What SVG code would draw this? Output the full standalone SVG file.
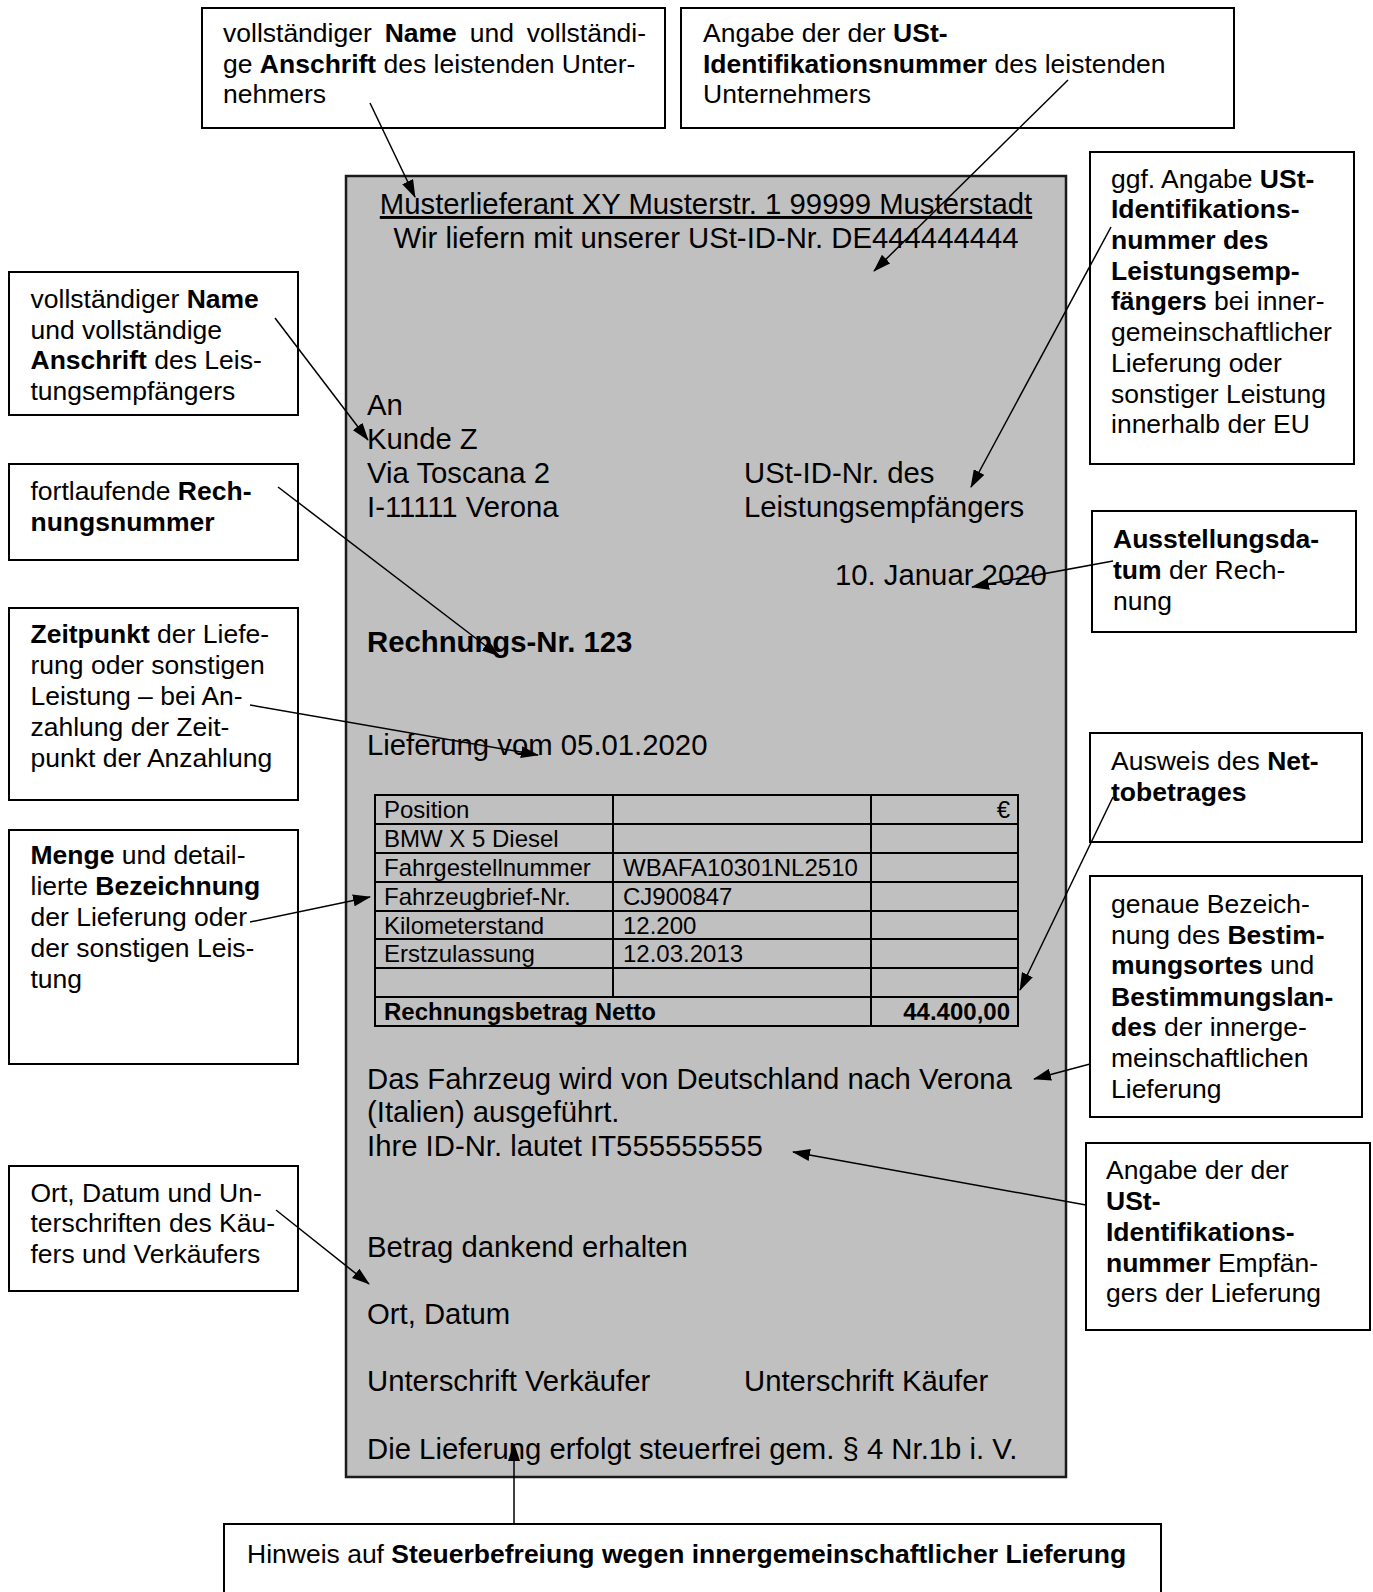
<svg xmlns="http://www.w3.org/2000/svg" width="1373" height="1592" viewBox="0 0 1373 1592">
<defs>
<marker id="ah" markerUnits="userSpaceOnUse" markerWidth="18" markerHeight="12" refX="17" refY="6" orient="auto">
<path d="M0,0 L18,6 L0,12 z" fill="#000"/>
</marker>
<style>
text{font-family:"Liberation Sans",Arial,sans-serif;fill:#000}
.a{font-size:26.5px}
.m{font-size:29.3px}
.tb{font-size:24px}
.b{font-weight:bold}
.box{fill:#fff;stroke:#000;stroke-width:2}
.doc{fill:#c0c0c0;stroke:#1a1a1a;stroke-width:2.5}
.grid{fill:none;stroke:#000;stroke-width:2}
.conn line{stroke:#000;stroke-width:1.5;marker-end:url(#ah)}
</style>
</defs>
<rect width="1373" height="1592" fill="#fff"/>

<g id="invoice">
<rect class="doc" x="346" y="176" width="720" height="1301"/>
<text class="m" x="706" y="214" text-anchor="middle" text-decoration="underline">Musterlieferant XY Musterstr. 1 99999 Musterstadt</text>
<text class="m" x="706" y="248" text-anchor="middle">Wir liefern mit unserer USt-ID-Nr. DE444444444</text>
<text class="m" x="367" y="415">An</text>
<text class="m" x="367" y="449">Kunde Z</text>
<text class="m" x="367" y="483">Via Toscana 2</text>
<text class="m" x="367" y="517">I-11111 Verona</text>
<text class="m" x="744" y="483">USt-ID-Nr. des</text>
<text class="m" x="744" y="517">Leistungsempfängers</text>
<text class="m" x="835" y="585">10. Januar 2020</text>
<text class="m b" x="367" y="652">Rechnungs-Nr. 123</text>
<text class="m" x="367" y="755">Lieferung vom 05.01.2020</text>
<text class="m" x="367" y="1089">Das Fahrzeug wird von Deutschland nach Verona</text>
<text class="m" x="367" y="1122">(Italien) ausgeführt.</text>
<text class="m" x="367" y="1156">Ihre ID-Nr. lautet IT555555555</text>
<text class="m" x="367" y="1257">Betrag dankend erhalten</text>
<text class="m" x="367" y="1324">Ort, Datum</text>
<text class="m" x="367" y="1391">Unterschrift Verkäufer</text>
<text class="m" x="744" y="1391">Unterschrift Käufer</text>
<text class="m" x="367" y="1459">Die Lieferung erfolgt steuerfrei gem. § 4 Nr.1b i. V.</text>
</g>

<g id="table">
<rect class="grid" x="375" y="795" width="643" height="231"/>
<path class="grid" d="M375,824 H1018 M375,853 H1018 M375,882 H1018 M375,911 H1018 M375,939 H1018 M375,968 H1018 M375,997 H1018 M613,795 V997 M871,795 V1026"/>
<text class="tb" x="384" y="818">Position</text>
<text class="tb" x="1010" y="818" text-anchor="end">€</text>
<text class="tb" x="384" y="847">BMW X 5 Diesel</text>
<text class="tb" x="384" y="876">Fahrgestellnummer</text>
<text class="tb" x="623" y="876">WBAFA10301NL2510</text>
<text class="tb" x="384" y="905">Fahrzeugbrief-Nr.</text>
<text class="tb" x="623" y="905">CJ900847</text>
<text class="tb" x="384" y="934">Kilometerstand</text>
<text class="tb" x="623" y="934">12.200</text>
<text class="tb" x="384" y="962">Erstzulassung</text>
<text class="tb" x="623" y="962">12.03.2013</text>
<text class="tb b" x="384" y="1020">Rechnungsbetrag Netto</text>
<text class="tb b" x="1010" y="1020" text-anchor="end">44.400,00</text>
</g>

<g id="n-leistender-name">
<rect class="box" x="202" y="8" width="463" height="120"/>
<text class="a" x="223" y="42" word-spacing="5.5">vollständiger <tspan class="b">Name</tspan> und vollständi-</text>
<text class="a" x="223" y="72.5">ge <tspan class="b">Anschrift</tspan> des leistenden Unter-</text>
<text class="a" x="223" y="103">nehmers</text>
</g>

<g id="n-ust-leistender">
<rect class="box" x="681" y="8" width="553" height="120"/>
<text class="a" x="703" y="42">Angabe der der <tspan class="b">USt-</tspan></text>
<text class="a" x="703" y="72.5"><tspan class="b">Identifikationsnummer</tspan> des leistenden</text>
<text class="a" x="703" y="103">Unternehmers</text>
</g>

<g id="n-ust-empfaenger">
<rect class="box" x="1090" y="152" width="264" height="312"/>
<text class="a" x="1111" y="187.5">ggf. Angabe <tspan class="b">USt-</tspan></text>
<text class="a b" x="1111" y="218">Identifikations-</text>
<text class="a b" x="1111" y="249">nummer des</text>
<text class="a b" x="1111" y="280">Leistungsemp-</text>
<text class="a" x="1111" y="310"><tspan class="b">fängers</tspan> bei inner-</text>
<text class="a" x="1111" y="341">gemeinschaftlicher</text>
<text class="a" x="1111" y="372">Lieferung oder</text>
<text class="a" x="1111" y="403">sonstiger Leistung</text>
<text class="a" x="1111" y="433">innerhalb der EU</text>
</g>

<g id="n-empfaenger-name">
<rect class="box" x="9" y="272" width="289" height="143"/>
<text class="a" x="30.5" y="307.5">vollständiger <tspan class="b">Name</tspan></text>
<text class="a" x="30.5" y="338.5">und vollständige</text>
<text class="a" x="30.5" y="369"><tspan class="b">Anschrift</tspan> des Leis-</text>
<text class="a" x="30.5" y="400">tungsempfängers</text>
</g>

<g id="n-rechnungsnummer">
<rect class="box" x="9" y="464" width="289" height="96"/>
<text class="a" x="30.5" y="500">fortlaufende <tspan class="b">Rech-</tspan></text>
<text class="a b" x="30.5" y="531">nungsnummer</text>
</g>

<g id="n-zeitpunkt">
<rect class="box" x="9" y="608" width="289" height="192"/>
<text class="a" x="30.5" y="643"><tspan class="b">Zeitpunkt</tspan> der Liefe-</text>
<text class="a" x="30.5" y="674">rung oder sonstigen</text>
<text class="a" x="30.5" y="705">Leistung – bei An-</text>
<text class="a" x="30.5" y="736">zahlung der Zeit-</text>
<text class="a" x="30.5" y="767">punkt der Anzahlung</text>
</g>

<g id="n-menge">
<rect class="box" x="9" y="830" width="289" height="234"/>
<text class="a" x="30.5" y="864"><tspan class="b">Menge</tspan> und detail-</text>
<text class="a" x="30.5" y="895">lierte <tspan class="b">Bezeichnung</tspan></text>
<text class="a" x="30.5" y="926">der Lieferung oder</text>
<text class="a" x="30.5" y="957">der sonstigen Leis-</text>
<text class="a" x="30.5" y="988">tung</text>
</g>

<g id="n-unterschriften">
<rect class="box" x="9" y="1166" width="289" height="125"/>
<text class="a" x="30.5" y="1202">Ort, Datum und Un-</text>
<text class="a" x="30.5" y="1232">terschriften des Käu-</text>
<text class="a" x="30.5" y="1263">fers und Verkäufers</text>
</g>

<g id="n-ausstellungsdatum">
<rect class="box" x="1092" y="511" width="264" height="121"/>
<text class="a b" x="1113" y="548">Ausstellungsda-</text>
<text class="a" x="1113" y="579"><tspan class="b">tum</tspan> der Rech-</text>
<text class="a" x="1113" y="610">nung</text>
</g>

<g id="n-nettobetrag">
<rect class="box" x="1090" y="733" width="272" height="109"/>
<text class="a" x="1111" y="769.5">Ausweis des <tspan class="b">Net-</tspan></text>
<text class="a b" x="1111" y="800.5">tobetrages</text>
</g>

<g id="n-bestimmungsort">
<rect class="box" x="1090" y="876" width="272" height="241"/>
<text class="a" x="1111" y="913">genaue Bezeich-</text>
<text class="a" x="1111" y="944">nung des <tspan class="b">Bestim-</tspan></text>
<text class="a" x="1111" y="974"><tspan class="b">mungsortes</tspan> und</text>
<text class="a b" x="1111" y="1006">Bestimmungslan-</text>
<text class="a" x="1111" y="1036"><tspan class="b">des</tspan> der innerge-</text>
<text class="a" x="1111" y="1067">meinschaftlichen</text>
<text class="a" x="1111" y="1098">Lieferung</text>
</g>

<g id="n-ust-empfaenger-lieferung">
<rect class="box" x="1086" y="1143" width="284" height="187"/>
<text class="a" x="1106" y="1179">Angabe der der</text>
<text class="a b" x="1106" y="1210">USt-</text>
<text class="a b" x="1106" y="1241">Identifikations-</text>
<text class="a" x="1106" y="1272"><tspan class="b">nummer</tspan> Empfän-</text>
<text class="a" x="1106" y="1302">gers der Lieferung</text>
</g>

<g id="n-steuerbefreiung">
<rect class="box" x="224" y="1524" width="937" height="90"/>
<text class="a" x="247" y="1563">Hinweis auf <tspan class="b">Steuerbefreiung wegen innergemeinschaftlicher Lieferung</tspan></text>
</g>

<g id="connectors" class="conn">
<line x1="370" y1="103" x2="415" y2="197"/>
<line x1="1068" y1="80" x2="874" y2="271"/>
<line x1="1111" y1="227" x2="971" y2="487"/>
<line x1="275" y1="318" x2="368" y2="440"/>
<line x1="278" y1="487" x2="499" y2="656"/>
<line x1="250" y1="705" x2="538" y2="755"/>
<line x1="250" y1="922" x2="370" y2="897"/>
<line x1="276" y1="1210" x2="369" y2="1284"/>
<line x1="1113" y1="561" x2="972" y2="587"/>
<line x1="1113" y1="797" x2="1020" y2="990"/>
<line x1="1090" y1="1064" x2="1034" y2="1079"/>
<line x1="1086" y1="1205" x2="793" y2="1152"/>
<line x1="514" y1="1524" x2="514" y2="1444"/>
</g>
</svg>
